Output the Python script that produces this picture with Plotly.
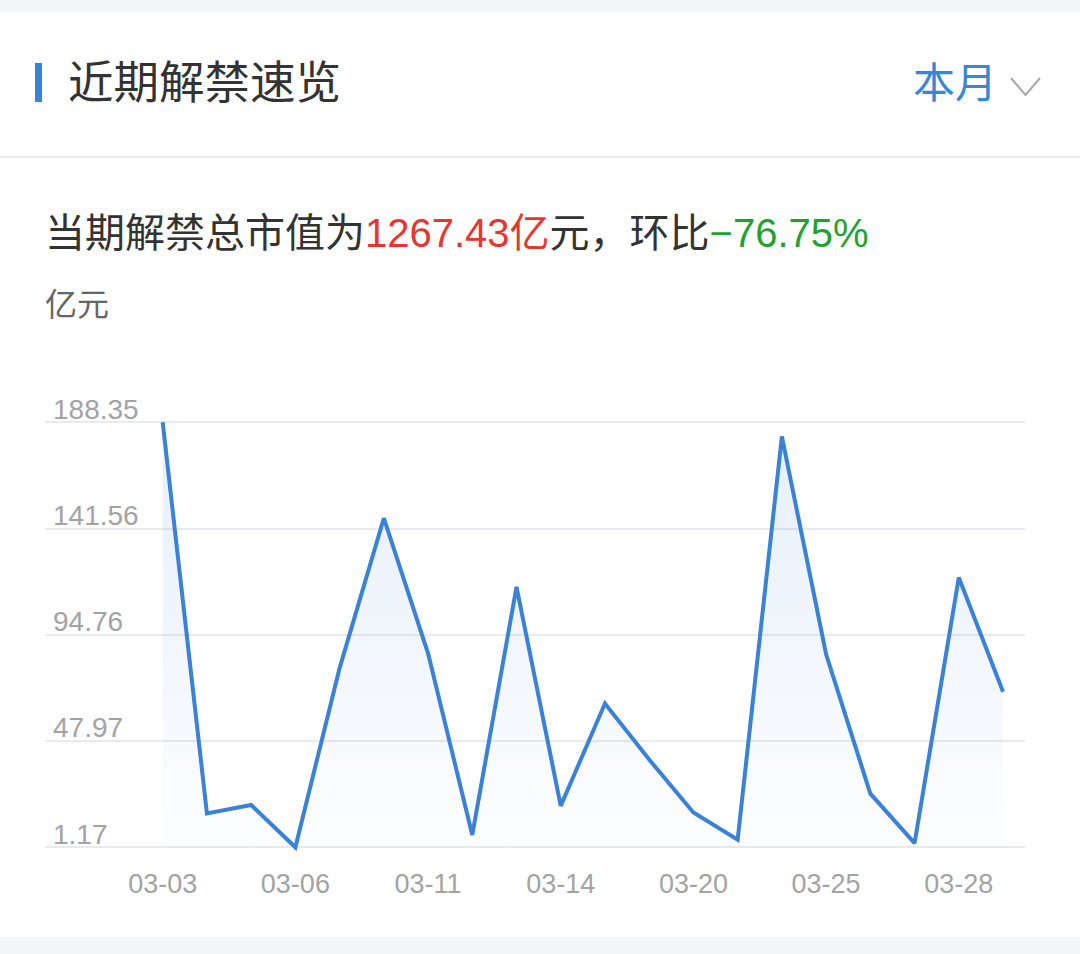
import plotly.graph_objects as go

dates = ["03-03", "03-04", "03-05", "03-06", "03-07", "03-10", "03-11", "03-12", "03-13", "03-14",
         "03-17", "03-18", "03-20", "03-21", "03-24", "03-25", "03-26", "03-27", "03-28", "03-31"]
values = [188.35, 16.1, 19.8, 1.17, 80.1, 146.1, 86.6, 6.6, 115.9, 19.4,
          64.5, 39.8, 16.5, 4.5, 182.1, 86.2, 24.8, 3.0, 120.0, 69.7]
y_ticks = [1.17, 47.97, 94.76, 141.56, 188.35]
y_tick_text = ["1.17", "47.97", "94.76", "141.56", "188.35"]
x_tick_dates = dates[::3]

W, H = 1080, 954
L, R, T, B = 45, 1025, 380, 852  # plot area in pixels


def px(x):
    return (x - L) / (R - L)


def py(y):
    return (B - y) / (B - T)


FONT = "Liberation Sans, Noto Sans CJK SC, sans-serif"
LINE = "#3a82d8"

fig = go.Figure()
fig.add_trace(go.Scatter(
    x=dates, y=values, mode="lines",
    line=dict(color=LINE, width=4),
    fill="tozeroy",
    fillgradient=dict(type="vertical",
                      colorscale=[[0, "rgba(58,130,216,0.01)"], [1, "rgba(58,130,216,0.13)"]]),
    hoverinfo="skip", showlegend=False,
))

fig.update_layout(
    width=W, height=H,
    margin=dict(l=L, r=W - R, t=T, b=H - B),
    paper_bgcolor="white", plot_bgcolor="white",
    font=dict(family=FONT),
    xaxis=dict(
        type="category", range=[-2.661, 19.497],
        tickvals=x_tick_dates, ticktext=x_tick_dates,
        showgrid=False, zeroline=False, showline=False,
        ticks="outside", ticklen=8, tickcolor="rgba(0,0,0,0)",
        tickfont=dict(size=27, color="#a3a3a3", family=FONT),
    ),
    yaxis=dict(
        range=[-0.90, 206.98],
        tickvals=y_ticks, ticktext=y_tick_text,
        ticklabelposition="inside top",
        ticklabelshift=6, ticklabelstandoff=5,
        showgrid=True, gridcolor="#e8eaee", gridwidth=1.5,
        zeroline=False, showline=False,
        tickfont=dict(size=28, color="#a3a3a3", family=FONT),
    ),
)

shapes = [
    dict(type="rect", xref="paper", yref="paper", x0=px(0), x1=px(W), y0=py(0), y1=py(12),
         fillcolor="#f4f5f7", line=dict(width=0), layer="below"),
    dict(type="rect", xref="paper", yref="paper", x0=px(0), x1=px(W), y0=py(937), y1=py(H),
         fillcolor="#f4f5f7", line=dict(width=0), layer="below"),
    dict(type="line", xref="paper", yref="paper", x0=px(0), x1=px(W), y0=py(157), y1=py(157),
         line=dict(color="#ececef", width=2)),
    dict(type="rect", xref="paper", yref="paper", x0=px(35), x1=px(42), y0=py(63), y1=py(102),
         fillcolor="#3a82d8", line=dict(width=0)),
    dict(type="path", xref="paper", yref="paper",
         path=f"M {px(1011)},{py(78)} L {px(1025.5)},{py(95)} L {px(1040)},{py(78)}",
         line=dict(color="#a8a8a8", width=2)),
]
fig.update_layout(shapes=shapes)

annotations = [
    dict(text="近期解禁速览", x=px(66), y=py(83), xref="paper", yref="paper",
         xanchor="left", yanchor="middle", showarrow=False,
         font=dict(size=45.5, color="#333333", family=FONT)),
    dict(text="本月", x=px(911), y=py(84), xref="paper", yref="paper",
         xanchor="left", yanchor="middle", showarrow=False,
         font=dict(size=42, color="#3a86d6", family=FONT)),
    dict(text="当期解禁总市值为<span style='color:#e8362f'>1267.43亿</span>元，环比"
              "<span style='color:#1fa32f'>−76.75%</span>",
         x=px(43), y=py(233), xref="paper", yref="paper",
         xanchor="left", yanchor="middle", showarrow=False,
         font=dict(size=40, color="#333333", family=FONT)),
    dict(text="亿元", x=px(43), y=py(305), xref="paper", yref="paper",
         xanchor="left", yanchor="middle", showarrow=False,
         font=dict(size=32, color="#666666", family=FONT)),
]
fig.update_layout(annotations=annotations)

fig.write_html("out.html", config={"displayModeBar": False},
               post_script="document.body.style.margin='0';")
